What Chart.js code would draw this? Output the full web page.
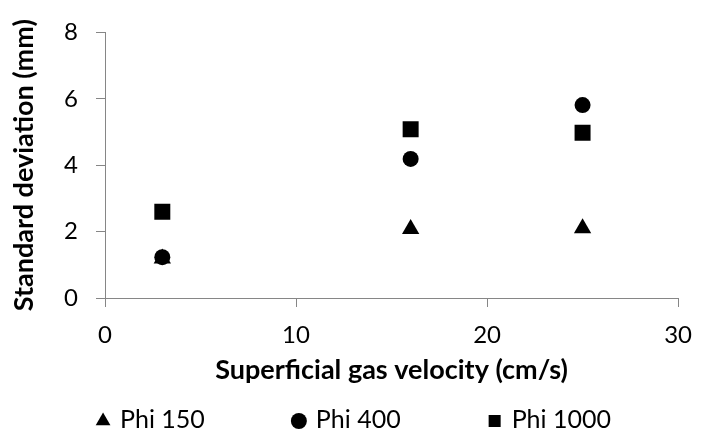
<!DOCTYPE html>
<html>
<head>
<meta charset="utf-8">
<script src="https://cdn.jsdelivr.net/npm/chart.js@4.4.1/dist/chart.umd.min.js"></script>
<style>
  html, body { margin: 0; padding: 0; background: #fff; }
  #wrap { width: 706px; height: 434px; }
</style>
</head>
<body>
<div id="wrap"><canvas id="chart" width="706" height="434"></canvas></div>
<script>
// Data
const seriesNames = ['Phi 150', 'Phi 400', 'Phi 1000'];
const velocity = [3, 16, 25];
const phi150 = [1.19, 2.08, 2.1];
const phi400 = [1.23, 4.19, 5.81];
const phi1000 = [2.6, 5.08, 4.98];
const xTicks = [0, 10, 20, 30];
const yTicks = [0, 2, 4, 6, 8];

const FONT = 'Lato, "Open Sans", sans-serif';
const axisGrey = '#868686';

function points(values) {
    return velocity.map((v, i) => ({ x: v, y: values[i] }));
}

// legend drawn under the axis title, spaced like the original
const bottomLegend = {
    id: 'bottomLegend',
    afterDraw(chart) {
        const ctx = chart.ctx;
        const y = 420;
        const markerW = 16, gap = 9, spacing = 86;
        ctx.save();
        ctx.font = '25px ' + FONT;
        ctx.textBaseline = 'middle';
        ctx.textAlign = 'left';
        const items = chart.data.datasets.map(ds => ({
            ds: ds,
            w: markerW + gap + ctx.measureText(ds.label).width
        }));
        const total = items.reduce((s, it) => s + it.w, 0) + spacing * (items.length - 1);
        let x = (chart.width - total) / 2;
        items.forEach(it => {
            ctx.fillStyle = '#000';
            ctx.strokeStyle = '#000';
            Chart.helpers.drawPoint(ctx, {
                pointStyle: it.ds.pointStyle,
                radius: it.ds.legendRadius,
                rotation: 0,
                borderWidth: 0
            }, x + markerW / 2, y + 1);
            ctx.fillStyle = '#000';
            ctx.fillText(it.ds.label, x + markerW + gap, y);
            x += it.w + spacing;
        });
        ctx.restore();
    }
};

const ctx = document.getElementById('chart').getContext('2d');

const chart = new Chart(ctx, {
    type: 'scatter',
    data: {
        datasets: [
            {
                label: seriesNames[0],
                data: points(phi150),
                pointStyle: 'triangle',
                pointRadius: 10,
                legendRadius: 8.5,
                backgroundColor: '#000',
                borderColor: '#000',
                borderWidth: 0
            },
            {
                label: seriesNames[1],
                data: points(phi400),
                pointStyle: 'circle',
                pointRadius: 8,
                legendRadius: 8,
                backgroundColor: '#000',
                borderColor: '#000',
                borderWidth: 0
            },
            {
                label: seriesNames[2],
                data: points(phi1000),
                pointStyle: 'rect',
                pointRadius: 11.3,
                legendRadius: 8.5,
                backgroundColor: '#000',
                borderColor: '#000',
                borderWidth: 0
            }
        ]
    },
    options: {
        responsive: false,
        animation: false,
        layout: {
            padding: { top: 29, right: 17, bottom: 48, left: 0 }
        },
        plugins: {
            legend: { display: false },
            tooltip: { enabled: false }
        },
        scales: {
            x: {
                type: 'linear',
                min: 0,
                max: 30,
                afterBuildTicks: scale => { scale.ticks = xTicks.map(v => ({ value: v })); },
                afterFit: scale => { scale.height = 88; },
                grid: { drawOnChartArea: false, drawTicks: true, tickLength: 9, color: axisGrey },
                border: { color: axisGrey, width: 1 },
                ticks: { color: '#000', padding: 14, font: { family: FONT, size: 24 } },
                title: {
                    display: true,
                    text: 'Superficial gas velocity (cm/s)',
                    color: '#000',
                    padding: { top: 0, bottom: 0 },
                    font: { family: FONT, size: 27, weight: 'bold' }
                }
            },
            y: {
                type: 'linear',
                min: 0,
                max: 8,
                afterBuildTicks: scale => { scale.ticks = yTicks.map(v => ({ value: v })); },
                afterFit: scale => { scale.width = 105; },
                grid: { drawOnChartArea: false, drawTicks: true, tickLength: 9, color: axisGrey },
                border: { color: axisGrey, width: 1 },
                ticks: { color: '#000', padding: 18, font: { family: FONT, size: 24 } },
                title: {
                    display: true,
                    text: 'Standard deviation (mm)',
                    color: '#000',
                    padding: { top: 8, bottom: 0 },
                    font: { family: FONT, size: 27, weight: 'bold' }
                }
            }
        }
    },
    plugins: [bottomLegend]
});
</script>
</body>
</html>
